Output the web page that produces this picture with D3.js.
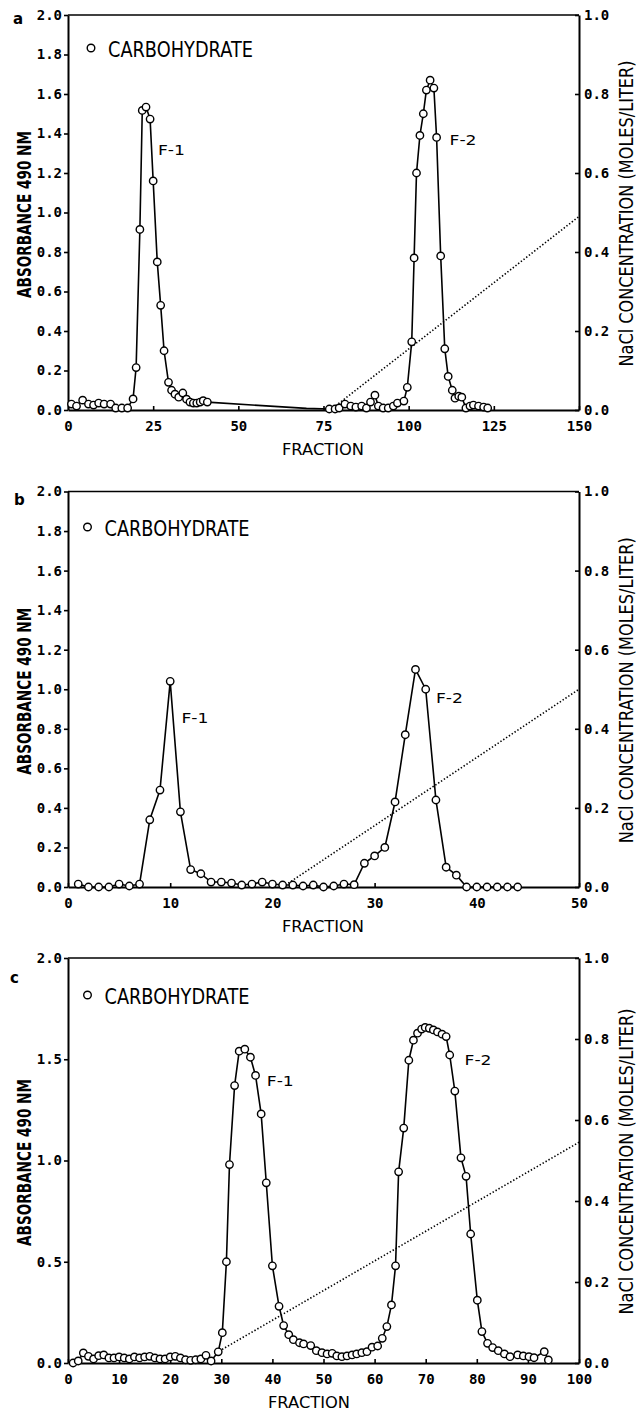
<!DOCTYPE html>
<html><head><meta charset="utf-8">
<script src="https://cdn.jsdelivr.net/npm/d3@7"></script>
<style>body{margin:0;background:#fff}svg{display:block}</style>
</head><body>
<svg id="chart" width="636" height="1412"></svg>
<script>
// ---------------- DATA ----------------
// Panel a
const aFraction = [1,2.5,4.3,6,7.5,9,10.6,12.5,14,15.8,17.5,19.1,20,21.1,21.8,22.9,24.1,25,26.2,27.2,28.2,29.5,30.4,31.4,32.5,33.7,34.8,35.8,36.8,37.8,38.8,39.7,40.9,70,
  76.7,78.4,79.6,81.3,83,84.5,86.2,87.6,88.8,90.1,91.1,92.5,94,95.5,96.7,98.6,99.6,100.9,101.6,102.3,103.3,104.3,105.2,106.3,107.4,108.2,109.4,110.6,111.6,112.8,113.6,114.7,115.6,116.8,118,119,120.5,122,123.2];
const aAbsorbance = [0.03,0.02,0.05,0.03,0.025,0.035,0.03,0.03,0.01,0.01,0.01,0.056,0.215,0.914,1.517,1.534,1.473,1.16,0.75,0.53,0.30,0.14,0.10,0.08,0.065,0.086,0.055,0.04,0.035,0.035,0.04,0.047,0.04,0.008,
  0.005,0.005,0.01,0.03,0.02,0.015,0.02,0.01,0.04,0.075,0.02,0.01,0.01,0.02,0.035,0.045,0.115,0.345,0.77,1.2,1.39,1.5,1.62,1.67,1.63,1.38,0.78,0.31,0.17,0.10,0.06,0.07,0.065,0.01,0.02,0.025,0.02,0.015,0.01];
const aNoMarker = [70];
const aNaClFraction = [77,150];
const aNaCl = [0,0.49];
const aXTicks = [0,25,50,75,100,125,150];
const aYTicks = [0,0.2,0.4,0.6,0.8,1.0,1.2,1.4,1.6,1.8,2.0];

// Panel b
const bFraction = [1,2,3,4,5,6,7,8,9,10,11,12,13,14,15,16,17,18,19,20,21,22,23,24,25,26,27,28,29,30,31,32,33,34,35,36,37,38,39,40,41,42,43,44];
const bAbsorbance = [0.015,0,0,0,0.015,0.005,0.015,0.34,0.49,1.04,0.38,0.088,0.067,0.025,0.025,0.02,0.01,0.015,0.025,0.015,0.01,0.01,0.005,0.01,0.0,0.005,0.015,0.012,0.12,0.157,0.20,0.43,0.77,1.10,1.00,0.44,0.10,0.06,0,0,0,0,0,0];
const bNaClFraction = [21,50];
const bNaCl = [0,0.5];
const bXTicks = [0,10,20,30,40,50];
const bYTicks = [0,0.2,0.4,0.6,0.8,1.0,1.2,1.4,1.6,1.8,2.0];

// Panel c
const cFraction = [1,2,3,4,5,6,7,8,9,10,11,12,13,14,15,16,17,18,19,20,21,22,23,24,25,26,27,28,
  29.4,30.2,31.0,31.6,32.6,33.5,34.6,35.7,36.7,37.8,38.8,40.0,41.3,42.2,43.2,44.1,45.3,46.1,47.5,48.6,49.7,50.7,51.7,52.6,53.6,54.6,55.6,56.5,57.5,58.5,59.5,60.6,61.5,62.4,63.3,
  64.1,64.7,65.7,66.7,67.6,68.4,69.2,69.9,70.7,71.5,72.3,73.2,74.0,74.7,75.7,76.9,77.9,78.8,80.1,81.0,82.1,83.1,84.2,85.4,86.5,88.0,89.1,90.2,91.2,93.2,94.0];
const cAbsorbance = [0.0,0.01,0.05,0.033,0.02,0.036,0.04,0.025,0.025,0.03,0.025,0.02,0.03,0.025,0.03,0.033,0.025,0.02,0.02,0.03,0.033,0.025,0.016,0.013,0.016,0.02,0.038,0.01,
  0.055,0.15,0.50,0.98,1.37,1.54,1.55,1.51,1.42,1.23,0.89,0.48,0.28,0.185,0.14,0.115,0.10,0.094,0.086,0.061,0.051,0.045,0.048,0.035,0.031,0.035,0.04,0.045,0.051,0.056,0.078,0.084,0.122,0.18,0.287,
  0.48,0.944,1.16,1.495,1.594,1.629,1.649,1.657,1.653,1.645,1.635,1.624,1.612,1.521,1.343,1.013,0.922,0.637,0.31,0.155,0.097,0.076,0.061,0.045,0.031,0.04,0.035,0.031,0.026,0.056,0.015];
const cNaClFraction = [29,100];
const cNaCl = [0.025,0.545];
const cXTicks = [0,10,20,30,40,50,60,70,80,90,100];
const cYTicks = [0,0.5,1.0,1.5,2.0];

const naclTicks = [0,0.2,0.4,0.6,0.8,1.0];
const legendText = "CARBOHYDRATE";
const xTitle = "FRACTION";
const yTitle = "ABSORBANCE 490 NM";
const y2Title = "NaCl CONCENTRATION (MOLES/LITER)";

// peak labels in data coordinates [fraction, absorbance]
const aPeakLabels = [["F-1",26.4,1.29],["F-2",112,1.34]];
const bPeakLabels = [["F-1",11.1,0.83],["F-2",36,0.93]];
const cPeakLabels = [["F-1",38.9,1.37],["F-2",77.6,1.47]];

// ---------------- DRAW ----------------
const svg = d3.select("#chart");
const tickFont = "'DejaVu Sans Mono', monospace";
const textFont = "'DejaVu Sans', sans-serif";
const fmt = d3.format(".1f");

function panel(o){
  const x = d3.scaleLinear().domain([0, o.xMax]).range([68, 579]);
  const y = d3.scaleLinear().domain([0, 2]).range([o.bottom, o.top]);
  const y2 = d3.scaleLinear().domain([0, 1]).range([o.bottom, o.top]);
  const g = svg.append("g");

  // frame top
  g.append("path").attr("d", d3.line()([[x(0), y(2)], [x(o.xMax), y(2)]]))
    .attr("stroke","#000").attr("stroke-width",1.6).attr("fill","none");

  const styleAxis = sel => {
    sel.select(".domain").attr("stroke","#000").attr("stroke-width",2);
    sel.selectAll(".tick line").attr("stroke","#000").attr("stroke-width",1.6);
    sel.selectAll(".tick text").attr("fill","#000").attr("font-family",tickFont)
      .attr("font-weight","bold").attr("font-size",14);
  };
  g.append("g").attr("transform",`translate(${x(0)},0)`)
    .call(d3.axisLeft(y).tickValues(o.yTicks).tickFormat(fmt).tickSize(4).tickSizeOuter(0).tickPadding(2))
    .call(styleAxis);
  g.append("g").attr("transform",`translate(${x(o.xMax)},0)`)
    .call(d3.axisRight(y2).tickValues(naclTicks).tickFormat(fmt).tickSize(-4).tickSizeOuter(0).tickPadding(5))
    .call(styleAxis);
  g.append("g").attr("transform",`translate(0,${y(0)})`)
    .call(d3.axisBottom(x).tickValues(o.xTicks).tickFormat(d3.format("d")).tickSize(-4).tickSizeOuter(0).tickPadding(11))
    .call(styleAxis);

  // NaCl gradient dotted
  const nacl = o.naclF.map((f,i)=>[x(f), y2(o.nacl[i])]);
  g.append("path").attr("d", d3.line()(nacl)).attr("fill","none")
    .attr("stroke","#000").attr("stroke-width",1.6).attr("stroke-dasharray","1.4,2");

  // carbohydrate line
  const pts = o.f.map((f,i)=>({f, v:o.v[i]}));
  g.append("path").attr("d", d3.line().x(d=>x(d.f)).y(d=>y(d.v))(pts))
    .attr("fill","none").attr("stroke","#000").attr("stroke-width",1.6).attr("stroke-linejoin","round");
  g.selectAll("circle.pt").data(pts.filter(d=>!(o.noMarker||[]).includes(d.f))).enter()
    .append("circle").attr("class","pt").attr("cx",d=>x(d.f)).attr("cy",d=>y(d.v)).attr("r",3.7)
    .attr("fill","#fff").attr("stroke","#000").attr("stroke-width",1.4);

  // legend
  g.append("circle").attr("cx",o.legX).attr("cy",o.legY).attr("r",3.8)
    .attr("fill","#fff").attr("stroke","#000").attr("stroke-width",1.4);
  g.append("text").attr("x",o.legX+17).attr("y",o.legY+8.5).text(legendText)
    .attr("font-family",textFont).attr("font-size",22).attr("textLength",145)
    .attr("lengthAdjust","spacingAndGlyphs");

  // peak labels
  o.peaks.forEach(p=>{
    g.append("text").attr("x",x(p[1])).attr("y",y(p[2])).text(p[0])
      .attr("font-family",textFont).attr("font-size",14).attr("textLength",27)
      .attr("lengthAdjust","spacingAndGlyphs");
  });

  // panel letter
  g.append("text").attr("x",o.letX).attr("y",o.letY).text(o.letter)
    .attr("font-family","'DejaVu Sans', sans-serif").attr("font-weight","bold").attr("font-size",15);

  // axis titles
  const cy = (o.top+o.bottom)/2;
  g.append("text").attr("x",o.xTitleX).attr("y",y(0)+o.xTitleDy).attr("text-anchor","middle").text(xTitle)
    .attr("font-family",textFont).attr("font-size",15).attr("textLength",82).attr("lengthAdjust","spacingAndGlyphs");
  g.append("text").attr("transform",`translate(24,${cy+2}) rotate(-90)`).attr("text-anchor","middle")
    .attr("dy","0.36em").text(yTitle).attr("font-family",textFont).attr("font-weight","bold")
    .attr("font-size",20).attr("textLength",167).attr("lengthAdjust","spacingAndGlyphs");
  g.append("text").attr("transform",`translate(626,${cy+1}) rotate(-90)`).attr("text-anchor","middle")
    .attr("dy","0.36em").text(y2Title).attr("font-family",textFont)
    .attr("font-size",19).attr("textLength",306).attr("lengthAdjust","spacingAndGlyphs");
}

panel({letter:"a", top:15, bottom:410, xMax:150, xTicks:aXTicks, yTicks:aYTicks, f:aFraction, v:aAbsorbance,
  noMarker:aNoMarker, naclF:aNaClFraction, nacl:aNaCl, peaks:aPeakLabels, legX:91, legY:48, letX:13, letY:24,
  xTitleX:323, xTitleDy:45});
panel({letter:"b", top:491.5, bottom:887, xMax:50, xTicks:bXTicks, yTicks:bYTicks, f:bFraction, v:bAbsorbance,
  naclF:bNaClFraction, nacl:bNaCl, peaks:bPeakLabels, legX:87.5, legY:527, letX:14, letY:505,
  xTitleX:323, xTitleDy:45});
panel({letter:"c", top:958, bottom:1363, xMax:100, xTicks:cXTicks, yTicks:cYTicks, f:cFraction, v:cAbsorbance,
  naclF:cNaClFraction, nacl:cNaCl, peaks:cPeakLabels, legX:87.5, legY:995, letX:10, letY:983,
  xTitleX:309, xTitleDy:45});
</script>
</body></html>
